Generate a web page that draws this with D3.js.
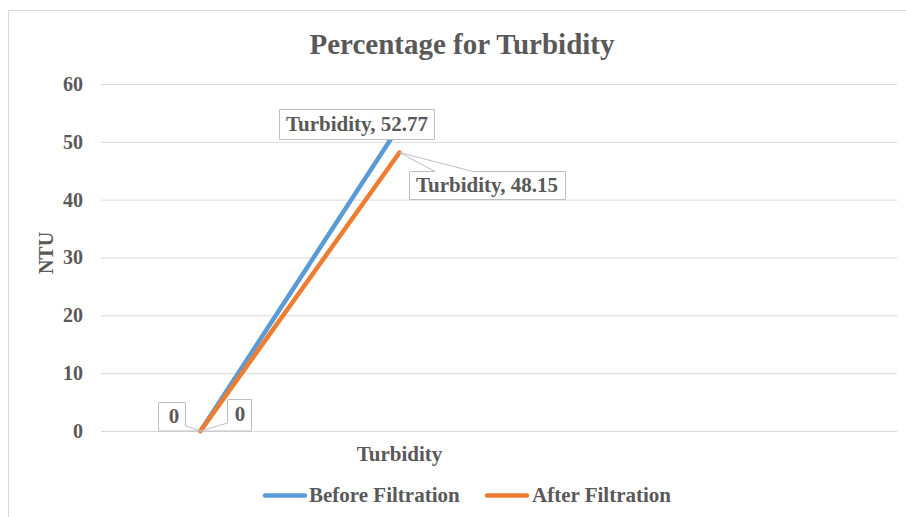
<!DOCTYPE html>
<html>
<head>
<meta charset="utf-8">
<script src="https://cdn.jsdelivr.net/npm/d3@7"></script>
<style>
  html, body { margin: 0; padding: 0; background: #fff; }
  svg { display: block; }
  text { font-family: "Liberation Serif", "Times New Roman", serif; font-weight: bold; fill: #595959; }
</style>
</head>
<body>
<svg id="chart" width="906" height="517"></svg>
<script>
// Category slots along the x axis (only the second one is labelled)
const categories = ["", "Turbidity", "", ""];
// Turbidity readings (NTU) per category
const beforeValues = [0, 52.77];
const afterValues = [0, 48.15];
const seriesNames = ["Before Filtration", "After Filtration"];
const seriesColors = ["#5B9BD5", "#ED7D31"];
const yTicks = [0, 10, 20, 30, 40, 50, 60];

const svg = d3.select("#chart");
const W = 906, H = 517;

// outer chart border
svg.append("rect")
  .attr("x", 8.5).attr("y", 10.5)
  .attr("width", W + 20).attr("height", H + 20)
  .attr("fill", "#fff").attr("stroke", "#d9d9d9").attr("stroke-width", 1);

const plot = { left: 101, right: 897, top: 84, bottom: 431 };

const x = d3.scaleBand()
  .domain(categories.map((d, i) => i))
  .range([plot.left, plot.right])
  .paddingInner(0).paddingOuter(0);
const y = d3.scaleLinear().domain([0, 60]).range([plot.bottom, plot.top]);
const cx = i => x(i) + x.bandwidth() / 2;

// gridlines + y tick labels
const yAxis = d3.axisLeft(y).tickValues(yTicks)
  .tickSize(-(plot.right - plot.left)).tickPadding(18);
const gy = svg.append("g").attr("transform", `translate(${plot.left},0)`).call(yAxis);
gy.select(".domain").remove();
gy.selectAll(".tick line").attr("stroke", "#d9d9d9").attr("stroke-width", 1);
gy.selectAll(".tick text")
  .attr("font-size", 20).attr("font-family", null).attr("fill", "#595959");

// x axis: category labels
const xAxis = d3.axisBottom(x).tickSize(0).tickPadding(0)
  .tickFormat(i => categories[i]);
const gx = svg.append("g").attr("transform", `translate(0,${plot.bottom})`).call(xAxis);
gx.select(".domain").remove();
gx.selectAll(".tick text")
  .attr("font-size", 21).attr("font-family", null).attr("fill", "#595959")
  .attr("dy", null).attr("y", 30);

// title
svg.append("text")
  .attr("x", 462).attr("y", 54)
  .attr("text-anchor", "middle")
  .attr("font-size", 29)
  .text("Percentage for Turbidity");

// y axis title
svg.append("text")
  .attr("transform", "translate(53,253) rotate(-90)")
  .attr("text-anchor", "middle")
  .attr("font-size", 20)
  .text("NTU");

// series lines
const series = [beforeValues, afterValues];
const line = d3.line().x((d, i) => cx(i)).y(d => y(d));
series.forEach((vals, s) => {
  svg.append("path")
    .attr("d", line(vals))
    .attr("fill", "none")
    .attr("stroke", seriesColors[s])
    .attr("stroke-width", 4.5)
    .attr("stroke-linecap", "round")
    .attr("stroke-linejoin", "round");
});

// callout label: box with a wedge pointing back to the data point
function callout(box, px, py, side, w0, w1, label, tx, ty) {
  const { x0, y0, x1, y1 } = box;
  let pts;
  if (side === "top") {
    pts = [[x0, y0], [w0, y0], [px, py], [w1, y0], [x1, y0], [x1, y1], [x0, y1]];
  } else if (side === "right") {
    pts = [[x0, y0], [x1, y0], [x1, w0], [px, py], [x1, w1], [x0, y1]];
  } else if (side === "left") {
    pts = [[x0, y0], [x1, y0], [x1, y1], [x0, w1], [px, py], [x0, w0]];
  } else {
    pts = [[x0, y0], [x1, y0], [x1, y1], [x0, y1]];
  }
  svg.append("path")
    .attr("d", "M" + pts.map(p => p.join(",")).join("L") + "Z")
    .attr("fill", "#fff").attr("stroke", "#bfbfbf").attr("stroke-width", 1);
  svg.append("text")
    .attr("x", tx).attr("y", ty)
    .attr("text-anchor", "middle")
    .attr("font-size", 21)
    .text(label);
}

// first-category zero labels
callout({ x0: 158.5, y0: 402.5, x1: 185.5, y1: 431 }, cx(0), y(beforeValues[0]), "right", 426, 431,
  String(beforeValues[0]), 174, 423);
callout({ x0: 227.5, y0: 399.5, x1: 251.5, y1: 431 }, cx(0), y(afterValues[0]), "left", 423, 431,
  String(afterValues[0]), 240, 421);

// Turbidity labels
callout({ x0: 279.5, y0: 109.5, x1: 434.5, y1: 139.5 }, cx(1), y(beforeValues[1]), "none", 0, 0,
  categories[1] + ", " + beforeValues[1].toFixed(2), 357, 131);
callout({ x0: 409.5, y0: 171.5, x1: 565.5, y1: 199.5 }, cx(1), y(afterValues[1]), "top", 435, 473,
  categories[1] + ", " + afterValues[1].toFixed(2), 487, 192);

// legend
const legendItems = [
  { x1: 265, x2: 305, tx: 309 },
  { x1: 487, x2: 527, tx: 532 }
];
legendItems.forEach((it, s) => {
  svg.append("line")
    .attr("x1", it.x1).attr("x2", it.x2).attr("y1", 495.5).attr("y2", 495.5)
    .attr("stroke", seriesColors[s]).attr("stroke-width", 4.5)
    .attr("stroke-linecap", "round");
  svg.append("text")
    .attr("x", it.tx).attr("y", 502)
    .attr("font-size", 21)
    .text(seriesNames[s]);
});
</script>
</body>
</html>
